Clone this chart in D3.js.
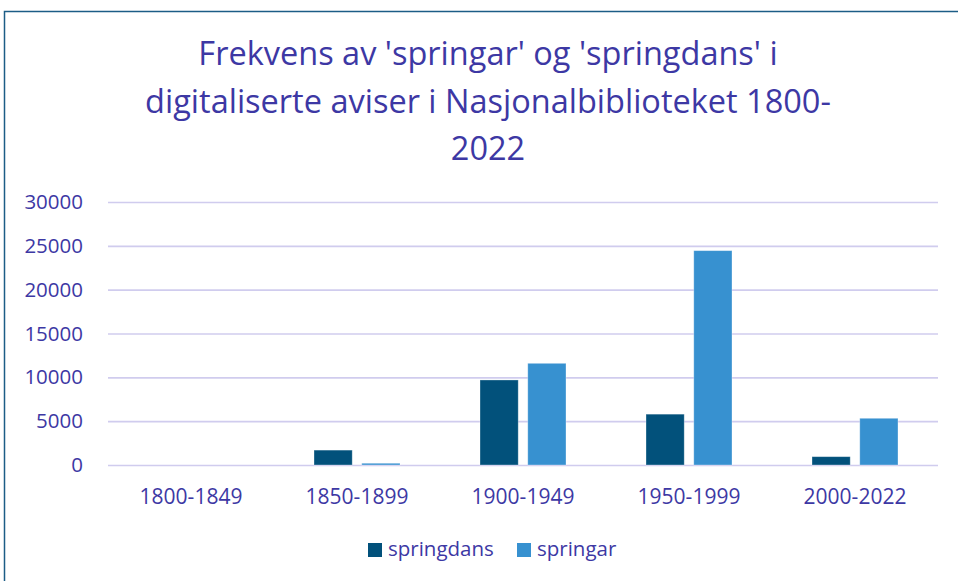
<!DOCTYPE html>
<html>
<head>
<meta charset="utf-8">
<script src="https://cdn.jsdelivr.net/npm/d3@7"></script>
<style>
  body { margin: 0; background: #fff; }
  svg text { font-family: "Open Sans", "Noto Sans", sans-serif; fill: #3d38a4; }
</style>
</head>
<body>
<div class="chart-section"></div>
<script>
const categories = ["1800-1849", "1850-1899", "1900-1949", "1950-1999", "2000-2022"];
const seriesNames = ["springdans", "springar"];
const springdans = [0, 1700, 9700, 5800, 950];
const springar = [0, 200, 11600, 24450, 5330];
const yTicks = [0, 5000, 10000, 15000, 20000, 25000, 30000];
const titleLines = [
  "Frekvens av 'springar' og 'springdans' i",
  "digitaliserte aviser i Nasjonalbiblioteket 1800-",
  "2022",
];

const width = 958;
const height = 581;
const colors = { springdans: "#02517b", springar: "#3791d0" };

const svg = d3
  .select(".chart-section")
  .append("svg")
  .attr("width", width)
  .attr("height", height);

// frame (top + left edge of the chart box)
svg.append("path")
  .attr("d", `M4.5,${height} V11.5 H${width}`)
  .attr("fill", "none")
  .attr("stroke", "#1c5d86")
  .attr("stroke-width", 1.5);

// title
svg.append("g")
  .selectAll("text")
  .data(titleLines)
  .join("text")
  .attr("x", 488)
  .attr("y", (d, i) => 65 + i * 47.5)
  .attr("text-anchor", "middle")
  .attr("font-size", 32.5)
  .text((d) => d);

const x0 = d3.scaleBand().domain(categories).range([108, 938]);
const x1 = d3
  .scaleBand()
  .domain(seriesNames)
  .range([40, x0.bandwidth() - 40])
  .paddingInner(0.2);
const y = d3.scaleLinear().domain([0, 30000]).range([465, 202]);

// gridlines
svg.append("g")
  .attr("transform", "translate(108,0)")
  .call(d3.axisLeft(y).tickValues(yTicks).tickSize(-830).tickFormat(""))
  .call((g) => g.select(".domain").remove())
  .call((g) => g.selectAll("line").attr("stroke", "#d0ccee").attr("stroke-width", 1.6));

// y labels
svg.append("g")
  .attr("transform", "translate(108,0)")
  .call(d3.axisLeft(y).tickValues(yTicks).tickSize(0).tickPadding(25).tickFormat(d3.format("d")))
  .call((g) => g.select(".domain").remove())
  .call((g) => g.selectAll("text").attr("font-size", 20.5).attr("font-family", null).attr("fill", null));

// bars
const rows = categories.map((c, i) => ({ cat: c, springdans: springdans[i], springar: springar[i] }));
svg.append("g")
  .selectAll("g")
  .data(rows)
  .join("g")
  .attr("transform", (d) => `translate(${x0(d.cat)},0)`)
  .selectAll("rect")
  .data((d) => seriesNames.map((k) => ({ key: k, value: d[k] })))
  .join("rect")
  .attr("x", (d) => x1(d.key))
  .attr("width", x1.bandwidth())
  .attr("y", (d) => y(d.value))
  .attr("height", (d) => y(0) - y(d.value))
  .attr("fill", (d) => colors[d.key])
  .attr("stroke", "#ffffff")
  .attr("stroke-opacity", 0.4)
  .attr("stroke-width", (d) => (d.value > 0 ? 0.8 : 0));

// x labels
svg.append("g")
  .attr("transform", "translate(0,465)")
  .call(d3.axisBottom(x0).tickSize(0).tickPadding(24))
  .call((g) => g.select(".domain").remove())
  .call((g) => g.selectAll("text").attr("font-size", 21).attr("font-family", null).attr("fill", null));

// legend
const legendX = [368, 517];
const legend = svg.append("g")
  .selectAll("g")
  .data(seriesNames)
  .join("g")
  .attr("transform", (d, i) => `translate(${legendX[i]},543)`);
legend.append("rect")
  .attr("width", 14)
  .attr("height", 14)
  .attr("fill", (d) => colors[d]);
legend.append("text")
  .attr("x", 20)
  .attr("y", 13)
  .attr("font-size", 20.5)
  .text((d) => d);
</script>
</body>
</html>
